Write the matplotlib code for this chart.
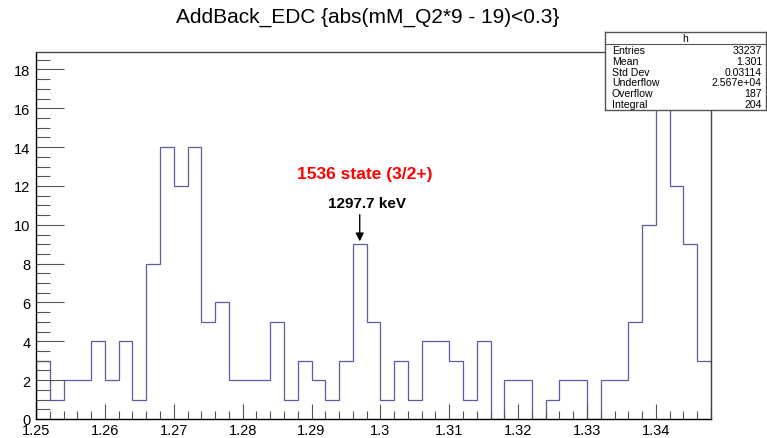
import numpy as np
import matplotlib
matplotlib.use('Agg')
import matplotlib.pyplot as plt
from matplotlib.ticker import MultipleLocator, FormatStrFormatter

plt.rcParams['font.family'] = ['Liberation Sans', 'DejaVu Sans']

# bin edges (0.002 wide) and counts
x_lo, x_hi, n_bins = 1.25, 1.348, 49
counts = [3, 1, 2, 2, 4, 2, 4, 1, 8, 14, 12, 14, 5, 6, 2, 2, 2, 5, 1, 3,
          2, 1, 3, 9, 5, 1, 3, 1, 4, 4, 3, 1, 4, 0, 2, 2, 0, 1, 2, 2,
          0, 2, 2, 5, 10, 18, 12, 9, 3]
edges = np.linspace(x_lo, x_hi, n_bins + 1)

title = 'AddBack_EDC {abs(mM_Q2*9 - 19)<0.3}'
stat_names = ['Entries', 'Mean', 'Std Dev', 'Underflow', 'Overflow', 'Integral']
stat_values = ['33237', '1.301', '0.03114', '2.567e+04', '187', '204']
peak_x = 1.297
label_state = '1536 state (3/2+)'
label_energy = '1297.7 keV'

W, H = 767, 439
fig = plt.figure(figsize=(W / 100, H / 100), dpi=100)
ax = fig.add_axes([36 / W, 1 - 420 / H, (711 - 36) / W, (420 - 53) / H])

ax.stairs(counts, edges, color='#5c5ca3', lw=0.9)
ax.set_xlim(x_lo, x_hi)
ax.set_ylim(0, max(counts) * 1.05)

ax.xaxis.set_major_locator(MultipleLocator(0.01))
ax.xaxis.set_minor_locator(MultipleLocator(0.002))
ax.xaxis.set_major_formatter(FormatStrFormatter('%g'))
ax.yaxis.set_major_locator(MultipleLocator(2))
ax.yaxis.set_minor_locator(MultipleLocator(0.5))
ax.tick_params(axis='x', which='major', direction='in', length=11, width=0.8,
               labelsize=10.5, pad=3, color='#555555')
ax.tick_params(axis='x', which='minor', direction='in', length=5.5, width=0.8,
               color='#555555')
ax.tick_params(axis='y', which='major', direction='in', length=20, width=0.8,
               labelsize=10.5, pad=4, color='#555555')
ax.tick_params(axis='y', which='minor', direction='in', length=10, width=0.8,
               color='#555555')
for s in ax.spines.values():
    s.set_linewidth(1)
    s.set_color('#444444')
ax.spines['bottom'].set_color('black')
ax.spines['left'].set_color('black')

# annotations
ax.text(1.2978, 12.63, label_state, color='red', fontsize=12.5,
        fontweight='bold', ha='center', va='center')
ax.text(1.2981, 11.12, label_energy, color='black', fontsize=11,
        fontweight='bold', ha='center', va='center')
ax.annotate('', xy=(peak_x, 9.15), xytext=(peak_x, 10.52),
            arrowprops=dict(arrowstyle='-|>', color='black', lw=1,
                            mutation_scale=12, shrinkA=0, shrinkB=0))

fig.text(368 / W, 1 - 17 / H, title, fontsize=15, ha='center', va='center')

# stats box
sb = fig.add_axes([605 / W, 1 - 111 / H, (766 - 605) / W, (111 - 33) / H])
sb.set_xlim(0, 161)
sb.set_ylim(78, 0)
sb.set_xticks([])
sb.set_yticks([])
for s in sb.spines.values():
    s.set_linewidth(1)
    s.set_color('#555555')
sb.axhline(12, color='#555555', lw=0.8)
sb.text(80.5, 6.5, 'h', fontsize=7.5, ha='center', va='center')
for i, (n, v) in enumerate(zip(stat_names, stat_values)):
    y = 18.5 + i * 10.6
    sb.text(7, y, n, fontsize=7.6, ha='left', va='center')
    sb.text(157, y, v, fontsize=7.6, ha='right', va='center')

fig.savefig('out.png', dpi=100)
